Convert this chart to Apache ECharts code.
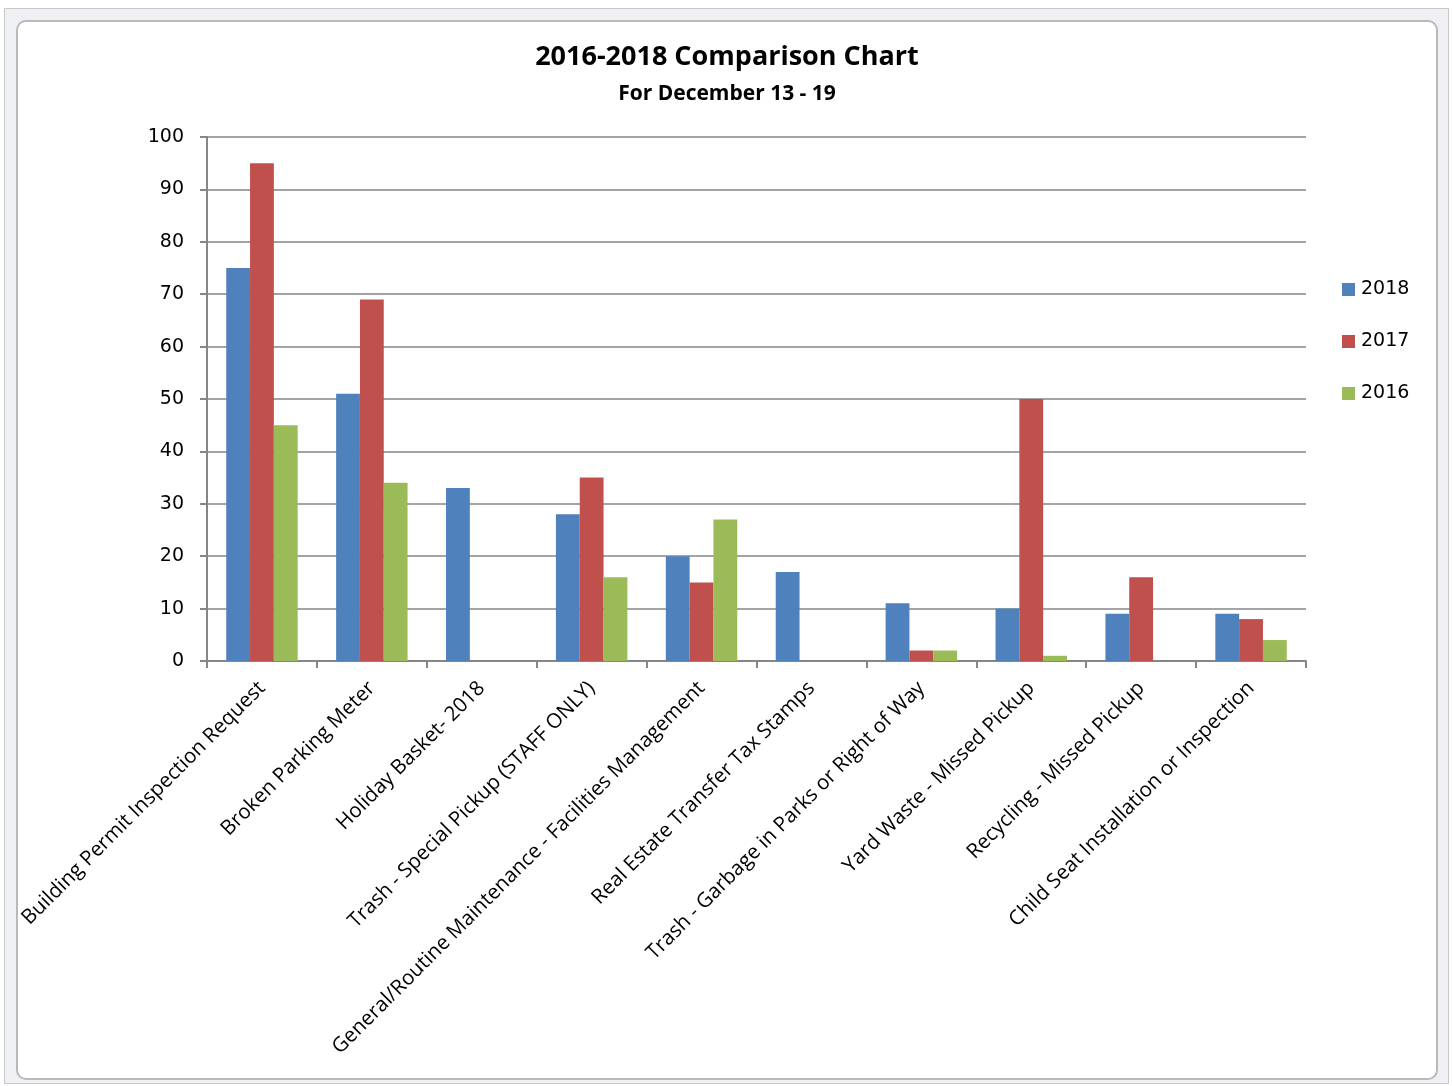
<!DOCTYPE html>
<html>
<head>
<meta charset="utf-8">
<script src="https://cdn.jsdelivr.net/npm/echarts@6/dist/echarts.min.js"></script>
<style>
html,body{margin:0;padding:0;background:#fff;}
#frame{position:absolute;left:4px;top:8px;width:1443px;height:1074px;border:1px solid #c8c8c8;background:#eef0f3;}
#inner{position:absolute;left:16px;top:20px;width:1418px;height:1056px;border:2px solid #b9b9b9;border-radius:10px;background:#fff;}
#chart{position:absolute;left:0;top:0;width:1453px;height:1086px;}
</style>
</head>
<body>
<div id="frame"></div>
<div id="inner"></div>
<div id="chart"></div>
<script>
const categories = [
  "Building Permit Inspection Request",
  "Broken Parking Meter",
  "Holiday Basket- 2018",
  "Trash - Special Pickup (STAFF ONLY)",
  "General/Routine Maintenance - Facilities Management",
  "Real Estate Transfer Tax Stamps",
  "Trash - Garbage in Parks or Right of Way",
  "Yard Waste - Missed Pickup",
  "Recycling - Missed Pickup",
  "Child Seat Installation or Inspection"
];
const values2018 = [75, 51, 33, 28, 20, 17, 11, 10, 9, 9];
const values2017 = [95, 69, 0, 35, 15, 0, 2, 50, 16, 8];
const values2016 = [45, 34, 0, 16, 27, 0, 2, 1, 0, 4];
const yTicks = [0, 10, 20, 30, 40, 50, 60, 70, 80, 90, 100];

const chart = echarts.init(document.getElementById('chart'));
const font = 'Open Sans, Noto Sans, sans-serif';
const vfont = 'DejaVu Sans, sans-serif';
chart.setOption({
  backgroundColor: 'transparent',
  animation: false,
  title: [
    {text: '2016-2018 Comparison Chart', left: 722, top: 39, textAlign: 'center',
     textStyle: {fontFamily: font, fontSize: 27, fontWeight: 'bold', color: '#000'}},
    {text: 'For December 13 - 19', left: 722, top: 79, textAlign: 'center',
     textStyle: {fontFamily: font, fontSize: 21, fontWeight: 'bold', color: '#000'}}
  ],
  legend: {
    orient: 'vertical', left: 1337, top: 275, itemWidth: 13, itemHeight: 13, itemGap: 33,
    icon: 'rect',
    textStyle: {fontFamily: vfont, fontSize: 19, color: '#000', padding: [0,0,0,1]},
    data: ['2018', '2017', '2016']
  },
  grid: {left: 207, right: 147, top: 137, bottom: 425},
  xAxis: {
    type: 'category', data: categories, boundaryGap: true,
    axisLine: {lineStyle: {color: '#868686', width: 2}},
    axisTick: {show: true, length: 7, lineStyle: {color: '#868686', width: 2}},
    axisLabel: {rotate: 45, fontFamily: font, fontSize: 20.5, color: '#000', margin: 24, interval: 0}
  },
  yAxis: {
    type: 'value', min: 0, max: 100, interval: 10,
    axisLine: {show: true, lineStyle: {color: '#868686', width: 2}},
    axisTick: {show: true, length: 7, lineStyle: {color: '#868686', width: 2}},
    splitLine: {lineStyle: {color: '#868686', width: 1.5}},
    axisLabel: {fontFamily: vfont, fontSize: 19, color: '#000', margin: 23,
      formatter: v => yTicks.includes(v) ? String(v) : ''}
  },
  series: [
    {name: '2018', type: 'bar', data: values2018, barGap: '0%', barCategoryGap: '35%',
     itemStyle: {color: '#4f81bd'}},
    {name: '2017', type: 'bar', data: values2017, itemStyle: {color: '#c0504d'}},
    {name: '2016', type: 'bar', data: values2016, itemStyle: {color: '#9bbb59'}}
  ]
});
</script>
</body>
</html>
